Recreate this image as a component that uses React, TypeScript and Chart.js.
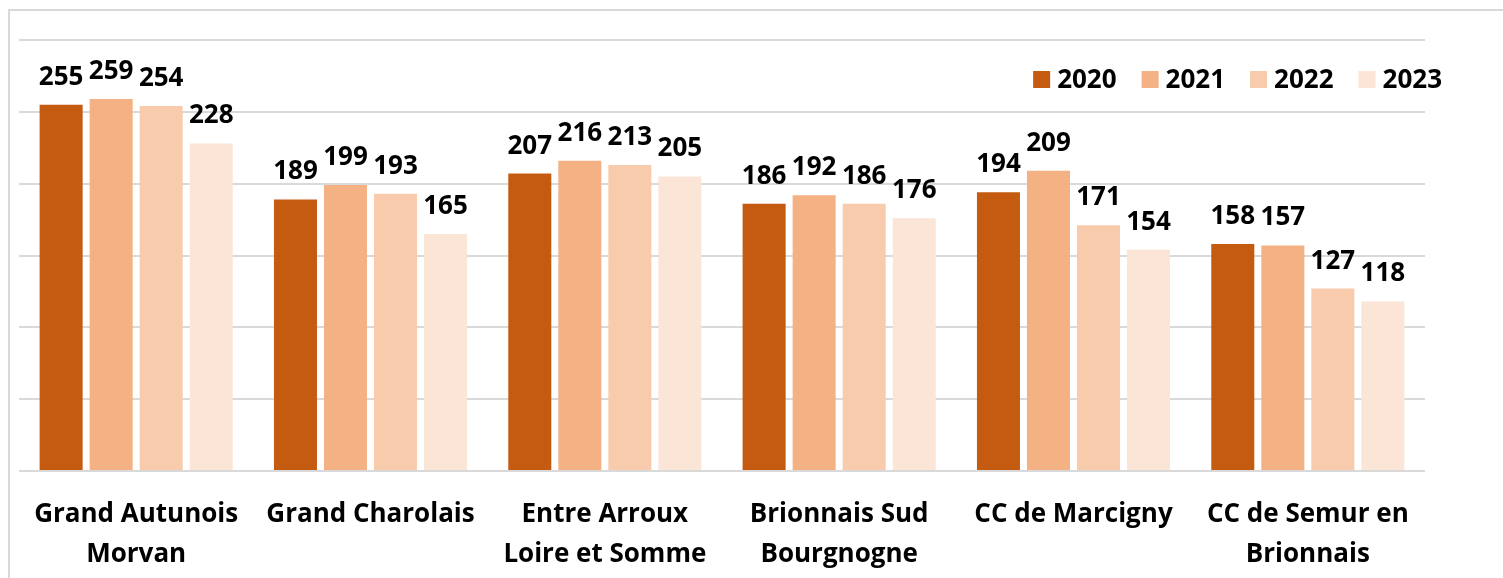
import React, { useEffect, useRef } from "react";
import { Chart, registerables } from "chart.js";

Chart.register(...registerables);

const categories: string[][] = [
  ["Grand Autunois", "Morvan"],
  ["Grand Charolais"],
  ["Entre Arroux", "Loire et Somme"],
  ["Brionnais Sud", "Bourgnogne"],
  ["CC de Marcigny"],
  ["CC de Semur en", "Brionnais"],
];
const seriesNames = ["2020", "2021", "2022", "2023"];
const values2020 = [255, 189, 207, 186, 194, 158];
const values2021 = [259, 199, 216, 192, 209, 157];
const values2022 = [254, 193, 213, 186, 171, 127];
const values2023 = [228, 165, 205, 176, 154, 118];
const seriesValues = [values2020, values2021, values2022, values2023];
const colors = ["#C55A11", "#F4B183", "#F8CBAD", "#FBE5D6"];
const yMin = 0;
const yMax = 300;
const yStep = 50;

const FAMILY = "'Open Sans', 'Liberation Sans', sans-serif";
const FONT_SIZE = 26;

const dataLabelPlugin = {
  id: "dataLabels",
  afterDatasetsDraw(chart: any) {
    const ctx = chart.ctx;
    ctx.save();
    ctx.font = `bold ${FONT_SIZE}px ${FAMILY}`;
    ctx.fillStyle = "#000000";
    ctx.textAlign = "center";
    ctx.textBaseline = "alphabetic";
    chart.data.datasets.forEach((ds: any, i: number) => {
      const meta = chart.getDatasetMeta(i);
      meta.data.forEach((el: any, j: number) => {
        ctx.fillText(String(ds.data[j]), el.x, el.y - 20);
      });
    });
    ctx.restore();
  },
};

const customLegendPlugin = {
  id: "customLegend",
  afterDraw(chart: any) {
    const ctx = chart.ctx;
    ctx.save();
    ctx.font = `bold ${FONT_SIZE}px ${FAMILY}`;
    ctx.textBaseline = "alphabetic";
    ctx.textAlign = "left";
    const box = 17;
    const boxGap = 7;
    const itemGap = 25;
    const baseline = 88;
    const ds = chart.data.datasets;
    const widths = ds.map((d: any) => ctx.measureText(d.label).width);
    const total =
      widths.reduce((a: number, w: number) => a + box + boxGap + w, 0) +
      itemGap * (ds.length - 1);
    let x = 1442 - total;
    ds.forEach((d: any, i: number) => {
      ctx.fillStyle = d.backgroundColor;
      ctx.fillRect(x, baseline - box, box, box);
      ctx.fillStyle = "#000000";
      ctx.fillText(d.label, x + box + boxGap, baseline);
      x += box + boxGap + widths[i] + itemGap;
    });
    ctx.restore();
  },
};

export default function App() {
  const ref = useRef<HTMLCanvasElement | null>(null);
  useEffect(() => {
    if (!ref.current) return;
    const chart = new Chart(ref.current, {
      type: "bar",
      data: {
        labels: categories as any,
        datasets: seriesNames.map((name, i) => ({
          label: name,
          data: seriesValues[i],
          backgroundColor: colors[i],
          borderWidth: 0,
          categoryPercentage: 0.854,
          barPercentage: 0.86,
        })),
      },
      options: {
        animation: false,
        responsive: false,
        devicePixelRatio: 1,
        layout: { padding: { left: 19, right: 78, top: 40, bottom: 0 } },
        plugins: {
          legend: { display: false },
          tooltip: { enabled: false },
          title: { display: false },
        },
        scales: {
          x: {
            grid: { display: false },
            border: { display: false },
            ticks: {
              color: "#000000",
              padding: 16,
              maxRotation: 0,
              autoSkip: false,
              font: { family: FAMILY, size: FONT_SIZE, weight: "bold", lineHeight: 40 / FONT_SIZE },
            },
            afterFit: (scale: any) => {
              scale.height = 107;
            },
          },
          y: {
            min: yMin,
            max: yMax,
            ticks: { display: false, stepSize: yStep },
            grid: { color: "#d9d9d9", lineWidth: 2, drawTicks: false },
            border: { display: false },
            afterFit: (scale: any) => {
              scale.width = 0;
            },
          },
        },
      },
      plugins: [dataLabelPlugin, customLegendPlugin],
    });
    return () => chart.destroy();
  }, []);

  return (
    <div
      style={{
        position: "fixed",
        left: 0,
        top: 0,
        width: 1503,
        height: 578,
        overflow: "hidden",
        background: "#ffffff",
      }}
    >
      <div
        style={{
          position: "absolute",
          left: 8,
          top: 9,
          width: 1600,
          height: 700,
          border: "2px solid #d9d9d9",
        }}
      />
      <canvas
        ref={ref}
        width={1503}
        height={578}
        style={{ position: "absolute", left: 0, top: 0, width: 1503, height: 578 }}
      />
    </div>
  );
}
